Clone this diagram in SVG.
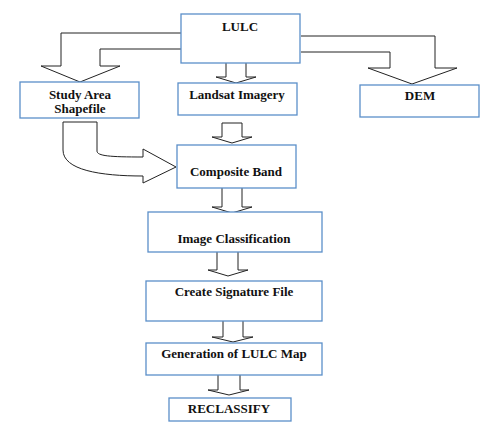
<svg xmlns="http://www.w3.org/2000/svg" width="502" height="433" viewBox="0 0 502 433">
<style>
.box{fill:#fff;stroke:#5B8FC9;stroke-width:1.3}
.arr{fill:#fff;stroke:#222;stroke-width:1}
text{font-family:"Liberation Serif","Times New Roman",Times,serif;font-weight:bold;font-size:13px;fill:#111;text-anchor:middle}
</style>
<rect width="502" height="433" fill="#fff"/>
<g id="connectors">
<path class="arr" d="M181,33 H61 V66 H41 L80,82 L120,66 H100 V49 H181"/>
<path class="arr" d="M226,63 V77 H216 L236,83 L256,77 H246 V63"/>
<path class="arr" d="M301,36 H435 V68 H457 L412,84 L368,68 H390 V52 H301"/>
<path class="arr" d="M63,122 H97 V151 C97,156 110,157 143,157 V149 L176,167 L143,183 V176 C100,176 63,170 63,150 Z"/>
<path class="arr" d="M222,123 V137 H212 L232,143 L252,137 H242 V123 Z"/>
<path class="arr" d="M222,188 V207 H212 L232,213 L252,207 H242 V188"/>
<path class="arr" d="M217,252 V270 H208 L228,276 L248,270 H238 V252"/>
<path class="arr" d="M223,321 V337 H212 L233,342 L253,337 H243 V321"/>
<path class="arr" d="M218,375 V390 H208 L229,395 L249,390 H240 V375"/>
</g>
<g id="lulc"><rect class="box" x="181" y="14" width="119" height="49"/><text x="240" y="31">LULC</text></g>
<g id="study"><rect class="box" x="20" y="82" width="119" height="36"/><text x="80" y="99">Study Area</text><text x="80" y="113">Shapefile</text></g>
<g id="landsat"><rect class="box" x="178" y="83" width="119" height="32"/><text x="237" y="99">Landsat Imagery</text></g>
<g id="dem"><rect class="box" x="360" y="85" width="119" height="32"/><text x="420" y="100">DEM</text></g>
<g id="composite"><rect class="box" x="177" y="145" width="119" height="43"/><text x="236" y="176">Composite Band</text></g>
<g id="imgclass"><rect class="box" x="148" y="212" width="174" height="40"/><text x="234" y="243">Image Classification</text></g>
<g id="signature"><rect class="box" x="146" y="281" width="176" height="40"/><text x="234" y="296">Create Signature File</text></g>
<g id="generation"><rect class="box" x="146" y="343" width="176" height="32"/><text x="234" y="358">Generation of LULC Map</text></g>
<g id="reclassify"><rect class="box" x="169" y="398" width="122" height="23"/><text x="229" y="413">RECLASSIFY</text></g>
</svg>
